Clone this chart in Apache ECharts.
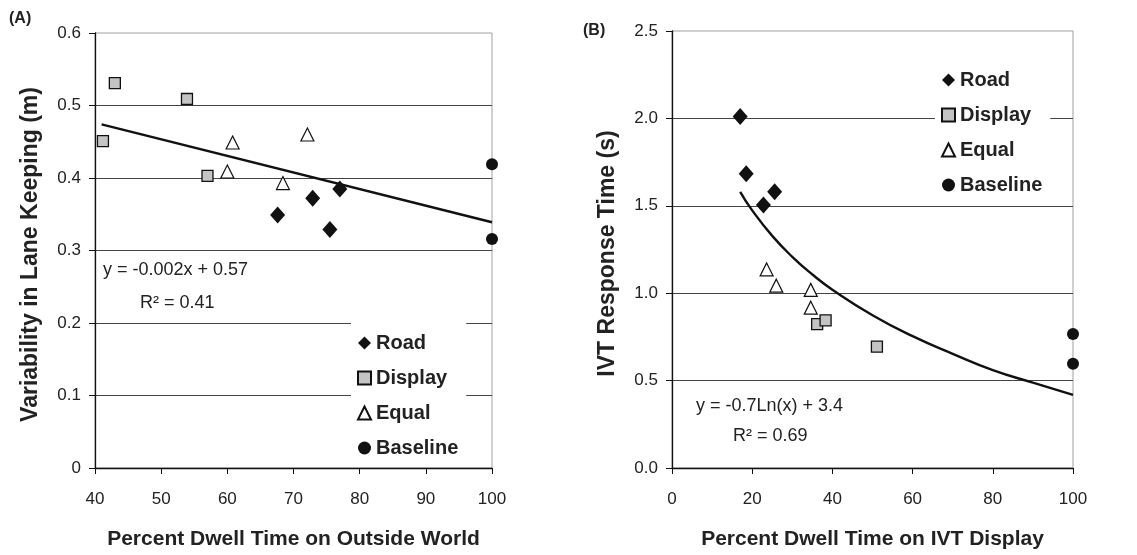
<!DOCTYPE html>
<html>
<head>
<meta charset="utf-8">
<script src="https://cdn.jsdelivr.net/npm/echarts@6/dist/echarts.min.js"></script>
<style>
html,body{margin:0;padding:0;background:#fff;}
#chart{width:1137px;height:555px;}
</style>
</head>
<body>
<div id="chart"></div>
<script>
// ---- Panel A data: Percent dwell time on outside world vs variability in lane keeping ----
const aRoad     = [[67.6,0.349],[72.9,0.372],[75.5,0.329],[77.0,0.385]];
const aDisplay  = [[41.2,0.451],[43.0,0.531],[53.9,0.509],[57.0,0.403]];
const aEqual    = [[60.0,0.409],[60.8,0.449],[68.4,0.393],[72.1,0.460]];
const aBaseline = [[100,0.419],[100,0.316]];
const aTrend    = [[41,0.474],[100,0.339]];
const aXTicks = [40,50,60,70,80,90,100];
const aYTicks = [0,0.1,0.2,0.3,0.4,0.5,0.6];

// ---- Panel B data: Percent dwell time on IVT display vs IVT response time ----
const bRoad     = [[17.0,2.011],[18.5,1.683],[22.8,1.505],[25.6,1.581]];
const bDisplay  = [[36.2,0.823],[38.3,0.845],[51.1,0.694]];
const bEqual    = [[23.6,1.136],[26.0,1.043],[34.6,1.019],[34.6,0.917]];
const bBaseline = [[100,0.766],[100,0.596]];
const bTrend    = [[17,1.58],[20,1.474],[25,1.328],[30,1.208],[35,1.107],[40,1.02],[50,0.874],[60,0.754],[70,0.653],[80,0.56],[90,0.488],[100,0.418]];
const bXTicks = [0,20,40,60,80,100];
const bYTicks = [0,0.5,1.0,1.5,2.0,2.5];

const seriesNames = ['Road','Display','Equal','Baseline'];
const eqA = ['y = -0.002x + 0.57','R² = 0.41'];
const eqB = ['y = -0.7Ln(x) + 3.4','R² = 0.69'];

const FONT = '"Liberation Sans", Arial, sans-serif';
const chart = echarts.init(document.getElementById('chart'), null, {renderer:'canvas'});

const styles = {
  Road:     {symbol:'diamond',  size:[15,17], itemStyle:{color:'#111111', opacity:1}},
  Display:  {symbol:'rect',     size:11, itemStyle:{color:'#c4c4c4', borderColor:'#111111', borderWidth:1.3, opacity:1}},
  Equal:    {symbol:'triangle', size:13, itemStyle:{color:'#ffffff', borderColor:'#111111', borderWidth:1.2, opacity:1}},
  Baseline: {symbol:'circle',   size:12, itemStyle:{color:'#111111', opacity:1}}
};

function scatter(name, data, idx){
  const s = styles[name];
  return {type:'scatter', name:name, data:data, xAxisIndex:idx, yAxisIndex:idx,
    symbol:s.symbol, symbolSize:s.size, itemStyle:s.itemStyle, z:5, emphasis:{disabled:true}};
}
function trend(data, idx, smooth){
  return {type:'line', name:'trend'+idx, data:data, xAxisIndex:idx, yAxisIndex:idx,
    showSymbol:false, smooth:smooth, lineStyle:{color:'#111', width:2.4}, z:3, silent:true};
}

const tickLabel = {fontSize:17, color:'#222', fontFamily:FONT};
const nameStyle = {fontSize:21, fontWeight:'bold', color:'#222', fontFamily:FONT};

function xAxis(idx, min, max, interval, title){
  return {type:'value', gridIndex:idx, min:min, max:max, interval:interval,
    name:title, nameLocation:'middle', nameGap:61, nameTextStyle:Object.assign({verticalAlign:'top'}, nameStyle),
    axisLine:{show:true, onZero:false, lineStyle:{color:'#111', width:1.3}},
    axisTick:{show:true, inside:false, length:6, lineStyle:{color:'#111'}},
    axisLabel:Object.assign({margin:23}, tickLabel),
    splitLine:{show:false}};
}
function yAxis(idx, min, max, interval, title, fmt){
  return {type:'value', gridIndex:idx, min:min, max:max, interval:interval,
    name:title, nameLocation:'middle', nameGap:53, nameRotate:90,
    nameTextStyle:Object.assign({}, nameStyle, {fontSize:23, padding:[0,8,0,0]}),
    axisLine:{show:true, onZero:false, lineStyle:{color:'#111', width:1.3}},
    axisTick:{show:true, inside:false, length:6, lineStyle:{color:'#111'}},
    axisLabel:Object.assign({margin:14, formatter:fmt}, tickLabel),
    splitLine:{show:true, showMinLine:false, showMaxLine:false, lineStyle:{color:'#444', width:1}}};
}

function legend(left, top){
  return {orient:'vertical', left:left, top:top, data:seriesNames,
    backgroundColor:'#ffffff', padding:[12,8,8,6], itemGap:15,
    itemWidth:13, itemHeight:13, selectedMode:false,
    textStyle:{fontSize:20, fontWeight:'bold', color:'#222', fontFamily:FONT, lineHeight:19.5}};
}

const option = {
  animation:false,
  backgroundColor:'#ffffff',
  grid:[
    {left:95, right:645, top:33, bottom:84, show:true, borderColor:'#a0a0a0', borderWidth:1, backgroundColor:'transparent'},
    {left:672, right:64, top:31, bottom:82, show:true, borderColor:'#a0a0a0', borderWidth:1, backgroundColor:'transparent'}
  ],
  xAxis:[
    xAxis(0, aXTicks[0], aXTicks[aXTicks.length-1], aXTicks[1]-aXTicks[0], 'Percent Dwell Time on Outside World'),
    xAxis(1, bXTicks[0], bXTicks[bXTicks.length-1], bXTicks[1]-bXTicks[0], 'Percent Dwell Time on IVT Display')
  ],
  yAxis:[
    yAxis(0, aYTicks[0], aYTicks[aYTicks.length-1], 0.1, 'Variability in Lane Keeping (m)', v => String(+v.toFixed(1))),
    yAxis(1, bYTicks[0], bYTicks[bYTicks.length-1], 0.5, 'IVT Response Time (s)', v => v.toFixed(1))
  ],
  legend:[legend(351, 321), legend(935, 58)],
  series:[
    trend(aTrend, 0, false),
    trend(bTrend, 1, true),
    scatter('Road', aRoad, 0), scatter('Display', aDisplay, 0), scatter('Equal', aEqual, 0), scatter('Baseline', aBaseline, 0),
    scatter('Road', bRoad, 1), scatter('Display', bDisplay, 1), scatter('Equal', bEqual, 1), scatter('Baseline', bBaseline, 1)
  ],
  graphic:[
    {type:'text', left:9, top:11, style:{text:'(A)', font:'bold 16px '+FONT, fill:'#222'}},
    {type:'text', left:583, top:23, style:{text:'(B)', font:'bold 16px '+FONT, fill:'#222'}},
    {type:'text', left:103, top:261, style:{text:eqA[0], font:'18px '+FONT, fill:'#222'}},
    {type:'text', left:140, top:294, style:{text:eqA[1], font:'18px '+FONT, fill:'#222'}},
    {type:'text', left:696, top:397, style:{text:eqB[0], font:'18px '+FONT, fill:'#222'}},
    {type:'text', left:733, top:427, style:{text:eqB[1], font:'18px '+FONT, fill:'#222'}}
  ]
};
chart.setOption(option);
</script>
</body>
</html>
